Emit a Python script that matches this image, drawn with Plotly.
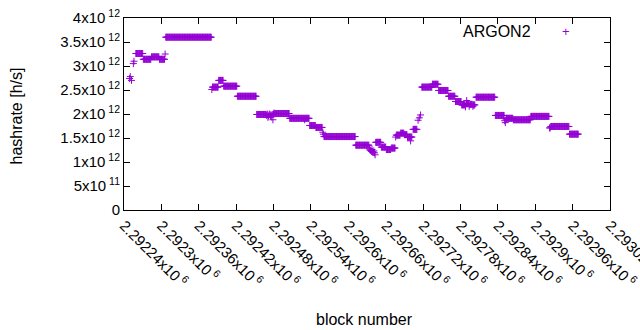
import numpy as np
import plotly.graph_objects as go

# constant-hashrate runs: first block, last block, hashrate (x1e12 h/s)
run_first = [2292259, 2292271, 2292284, 2292297, 2292307, 2292382, 2292392, 2292400,
             2292422, 2292453, 2292482, 2292506, 2292538, 2292548, 2292561, 2292612,
             2292644, 2292653, 2292661, 2292669, 2292677, 2292684, 2292690, 2292695,
             2292704, 2292718, 2292735, 2292745, 2292761, 2292772, 2292782, 2292789,
             2292795, 2292801, 2292805, 2292836, 2292854, 2292865, 2292893, 2292925,
             2292955]
run_last = [2292270, 2292283, 2292296, 2292305, 2292380, 2292391, 2292399, 2292421,
            2292452, 2292468, 2292505, 2292537, 2292547, 2292558, 2292611, 2292633,
            2292652, 2292660, 2292668, 2292675, 2292683, 2292689, 2292694, 2292702,
            2292710, 2292734, 2292744, 2292760, 2292771, 2292781, 2292787, 2292793,
            2292799, 2292803, 2292835, 2292850, 2292864, 2292892, 2292922, 2292954,
            2292969]
run_value = [3.26, 3.14, 3.19, 3.14, 3.60, 2.56, 2.70, 2.58,
             2.37, 1.99, 2.01, 1.91, 1.76, 1.72, 1.53, 1.35,
             1.41, 1.31, 1.26, 1.29, 1.56, 1.60, 1.57, 1.52,
             1.68, 2.56, 2.62, 2.49, 2.37, 2.26, 2.19, 2.22,
             2.20, 2.19, 2.35, 1.97, 1.91, 1.88, 1.95, 1.74,
             1.58]

# individual blocks
point_block = [2292249, 2292250, 2292252, 2292255, 2292256, 2292306, 2292381,
               2292469, 2292470, 2292471, 2292472, 2292473, 2292474, 2292475,
               2292476, 2292477, 2292478, 2292479, 2292480, 2292481,
               2292530, 2292559, 2292560,
               2292634, 2292635, 2292636, 2292637, 2292638, 2292639, 2292640,
               2292641, 2292642, 2292643,
               2292676, 2292700, 2292712, 2292714, 2292716,
               2292788, 2292790, 2292794, 2292800,
               2292851, 2292852, 2292853, 2292923, 2292924]
point_value = [2.74, 2.78, 2.70, 3.05, 3.10, 3.25, 2.51,
               1.97, 2.00, 1.93, 1.96, 1.99, 2.00, 1.96,
               1.98, 1.94, 1.99, 1.88, 2.00, 2.02,
               1.88, 1.62, 1.58,
               1.27, 1.25, 1.24, 1.22, 1.26, 1.21, 1.20,
               1.23, 1.19, 1.15,
               1.52, 1.44, 1.87, 1.92, 1.98,
               2.15, 2.28, 2.16, 2.16,
               1.86, 1.82, 1.88, 1.71, 1.71]

y_tickvals = [0, 0.5e12, 1e12, 1.5e12, 2e12, 2.5e12, 3e12, 3.5e12, 4e12]
y_ticktext = ["0", "5x10<sup> 11</sup>", "1x10<sup> 12</sup>", "1.5x10<sup> 12</sup>",
              "2x10<sup> 12</sup>", "2.5x10<sup> 12</sup>", "3x10<sup> 12</sup>",
              "3.5x10<sup> 12</sup>", "4x10<sup> 12</sup>"]
x_tickvals = [2292240, 2292300, 2292360, 2292420, 2292480, 2292540, 2292600,
              2292660, 2292720, 2292780, 2292840, 2292900, 2292960, 2293020]
x_ticklabels = ["2.29224", "2.2923", "2.29236", "2.29242", "2.29248", "2.29254",
                "2.2926", "2.29266", "2.29272", "2.29278", "2.29284", "2.2929",
                "2.29296", "2.29302"]
x_ticktext = [t + "x10<sup> 6</sup>" for t in x_ticklabels]

xs, ys = [], []
for a, b, v in zip(run_first, run_last, run_value):
    for blk in range(a, b + 1):
        xs.append(blk)
        ys.append(v * 1e12)
for blk, v in zip(point_block, point_value):
    xs.append(blk)
    ys.append(v * 1e12)

COLOR = "#9400D3"
FONT = "Liberation Sans, Arial, sans-serif"

fig = go.Figure()
fig.add_trace(go.Scatter(
    x=xs, y=ys, mode="markers", name="ARGON2", showlegend=False,
    marker=dict(symbol="cross-thin", size=5, line=dict(color=COLOR, width=1), color=COLOR),
))

axis_common = dict(showline=True, linecolor="black", linewidth=1, mirror="ticks",
                   ticks="inside", ticklen=6, tickcolor="black", showgrid=False,
                   zeroline=False, ticklabeloverflow="allow", automargin=False,
                   tickfont=dict(family=FONT, size=15, color="black"))

fig.update_xaxes(range=[2292240, 2293020], tickvals=x_tickvals, ticktext=x_ticktext,
                 tickangle=45, **axis_common)
fig.update_yaxes(range=[0, 4e12], tickvals=y_tickvals, ticktext=y_ticktext, **axis_common)

fig.add_annotation(text="block number", xref="paper", yref="paper", x=0.494, y=-0.555,
                   showarrow=False, font=dict(family=FONT, size=16, color="black"),
                   xanchor="center", yanchor="middle", yshift=-3)
fig.add_annotation(text="hashrate [h/s]", xref="paper", yref="paper", x=-0.221, y=0.49,
                   textangle=-90, showarrow=False,
                   font=dict(family=FONT, size=16, color="black"),
                   xanchor="center", yanchor="middle")
fig.add_annotation(text="ARGON2", xref="paper", yref="paper", x=0.842, y=0.932,
                   showarrow=False, font=dict(family=FONT, size=16, color="black"),
                   xanchor="right", yanchor="middle")
fig.add_annotation(text="+", xref="paper", yref="paper", x=0.91, y=0.932,
                   showarrow=False, font=dict(family=FONT, size=13, color=COLOR),
                   xanchor="center", yanchor="middle")

fig.update_layout(width=640, height=330, margin=dict(l=124, r=30, t=18, b=120),
                  plot_bgcolor="white", paper_bgcolor="white",
                  font=dict(family=FONT, size=15, color="black"))

fig.write_html("out.html")
